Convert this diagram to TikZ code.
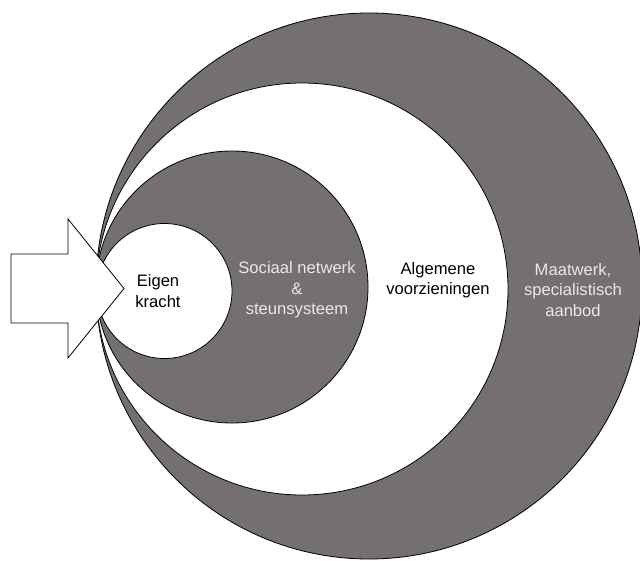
\documentclass[tikz,border=0pt]{standalone}
\usepackage{fontspec}
\setmainfont{Liberation Sans}
\definecolor{ringgray}{RGB}{117,112,112}
\definecolor{lighttext}{RGB}{232,232,232}
\begin{document}
\begin{tikzpicture}[x=1pt,y=-1pt,
  ring/.style={circle, draw=black, line width=0.8pt, inner sep=0pt},
  lbl/.style={align=center, font=\fontsize{16.6}{20.5}\selectfont},
]
\useasboundingbox (0,0) rectangle (640,560);
\begin{scope}
\clip (0,0) rectangle (640,560);
\node[ring, fill=ringgray, minimum size=546pt] (outer) at (369,286) {};
\node[ring, fill=white, minimum size=412pt] (general) at (302,289) {};
\node[ring, fill=ringgray, minimum size=272pt] (social) at (232,287) {};
\node[ring, fill=white, minimum size=135pt] (self) at (164.5,291) {};
\end{scope}
\draw[line width=0.8pt, fill=white, line join=miter]
  (11,254) -- (68,254) -- (68,219) -- (124,288.5) -- (68,358) -- (68,323) -- (11,323) -- cycle;
\node[lbl, text=black] (t1) at (158,291) {Eigen\\kracht};
\node[lbl, text=lighttext] (t2) at (297,290) {Sociaal netwerk\\\&\\steunsysteem};
\node[lbl, text=black] (t3) at (438,280) {Algemene\\voorzieningen};
\node[lbl, text=lighttext] (t4) at (573,290) {Maatwerk,\\specialistisch\\aanbod};
\end{tikzpicture}
\end{document}
